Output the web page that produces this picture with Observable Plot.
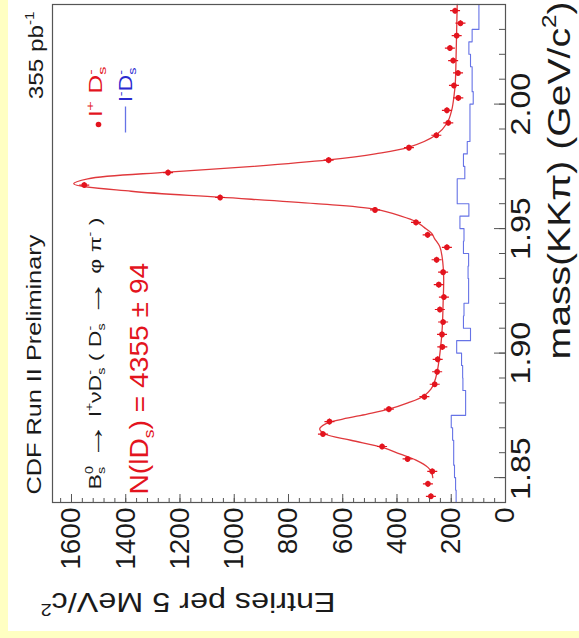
<!DOCTYPE html>
<html><head><meta charset="utf-8">
<script src="https://cdn.jsdelivr.net/npm/d3@7"></script>
<script src="https://cdn.jsdelivr.net/npm/@observablehq/plot@0.6"></script>
<style>
html,body{margin:0;padding:0;}
body{width:579px;height:638px;background:#ffffc2;position:relative;overflow:hidden;}
#panel{position:absolute;left:8px;top:0;width:571px;height:631px;background:#fff;}
#rot{position:absolute;left:0;top:0;width:638px;height:579px;transform-origin:0 0;transform:translate(0px,638px) rotate(-90deg);}
</style></head><body><div id="panel"></div><div id="rot"></div>
<script>
// ---- data ----
const massDomain = [1.84, 2.04];
const entriesDomain = [0, 1670];
const massBins = [1.8425, 1.8475, 1.8525, 1.8575, 1.8625, 1.8675, 1.8725, 1.8775, 1.8825, 1.8875,
  1.8925, 1.8975, 1.9025, 1.9075, 1.9125, 1.9175, 1.9225, 1.9275, 1.9325, 1.9375,
  1.9425, 1.9475, 1.9525, 1.9575, 1.9625, 1.9675, 1.9725, 1.9775, 1.9825, 1.9875,
  1.9925, 1.9975, 2.0025, 2.0075, 2.0125, 2.0175, 2.0225, 2.0275, 2.0325, 2.0375];
const rightSign = [275, 286, 270, 361, 455, 673, 649, 430, 299, 261,
  252, 250, 233, 234, 230, 242, 227, 246, 230, 254,
  216, 287, 330, 481, 1052, 1553, 1244, 652, 356, 255,
  211, 216, 174, 190, 175, 193, 205, 180, 166, 186];
const wrongSign = [182, 184, 188, 191, 191, 195, 200, 147, 147, 157,
  158, 162, 180, 129, 155, 153, 136, 136, 138, 136,
  155, 153, 168, 135, 178, 178, 150, 155, 141, 131,
  131, 131, 119, 123, 123, 129, 135, 123, 98, 98];
const fitMass = [1.850, 1.852, 1.854, 1.857, 1.8595, 1.862, 1.865, 1.8675, 1.8695, 1.8715,
  1.8735, 1.8755, 1.8775, 1.880, 1.8828, 1.8855, 1.8878, 1.8924, 1.9025, 1.9105,
  1.920, 1.9307, 1.9381, 1.9427, 1.9461, 1.9481, 1.9505, 1.9528, 1.9551, 1.9578,
  1.960, 1.9626, 1.965, 1.968, 1.970, 1.9727, 1.975, 1.9776, 1.980, 1.9827,
  1.9877, 1.9924, 1.9977, 2.0031, 2.0086, 2.020, 2.030, 2.040];
const fitValue = [268, 272, 285, 330, 390, 450, 570, 665, 685, 665,
  600, 510, 430, 360, 301, 275, 264, 252, 239, 233,
  230, 228, 233, 242, 262, 272, 300, 330, 387, 482,
  700, 1052, 1380, 1592, 1540, 1244, 930, 653, 480, 356,
  255, 215, 198, 190, 185, 182, 180, 178];
const massMajorTicks = [1.85, 1.90, 1.95, 2.00];
const massMinorTicks = [1.85, 1.86, 1.87, 1.88, 1.89, 1.90, 1.91, 1.92, 1.93, 1.94,
  1.95, 1.96, 1.97, 1.98, 1.99, 2.00, 2.01, 2.02, 2.03];
const entriesMajorTicks = [0, 200, 400, 600, 800, 1000, 1200, 1400, 1600];
const entriesMinorTicks = [40, 80, 120, 160, 200, 240, 280, 320, 360, 400, 440, 480, 520, 560, 600,
  640, 680, 720, 760, 800, 840, 880, 920, 960, 1000, 1040, 1080, 1120, 1160, 1200,
  1240, 1280, 1320, 1360, 1400, 1440, 1480, 1520, 1560, 1600, 1640];

// ---- styles ----
const RED = "#e3141e", FITRED = "#e0383c", BLUE = "#6673e6", BLUETEXT = "#2a2ad0",
      INK = "#1a1a1a", FRAME = "#555555";

const points = massBins.map((mass, i) => ({mass, n: rightSign[i]}));
const wrong = [{mass: massDomain[0], n: wrongSign[0]},
  ...massBins.map((mass, i) => ({mass, n: wrongSign[i]})),
  {mass: massDomain[1], n: wrongSign[wrongSign.length - 1]}];
const fit = fitMass.map((mass, i) => ({mass, n: fitValue[i]}));

const errCross = {draw(ctx) { ctx.moveTo(0, -5); ctx.lineTo(0, 5); ctx.moveTo(-3, 0); ctx.lineTo(3, 0); }};
const legendLine = {draw(ctx) { ctx.moveTo(-13, 0); ctx.lineTo(13, 0); }};

const texts = [
  {id: "t-cdf", text: "CDF Run II Preliminary", anchor: "top-left", dx: 8, dy: -12, size: 20, fill: INK, target: 260, textAnchor: "start"},
  {id: "t-lumi", text: "355 pb-1", anchor: "top-right", dx: -7, dy: -10, size: 20, fill: INK, target: 88, textAnchor: "end",
    parts: [["355 pb", "n"], ["-1", "sup"]]},
  {id: "t-decay", text: "B0s → l+νD-s ( D-s → φ π- )", anchor: "top-left", dx: 13, dy: 48, size: 17, fill: INK, target: 272, textAnchor: "start",
    parts: [["B", "n"], [["0", "s"], "supsub"], [" ", "n"], ["→", "big"], [" l", "n"], ["+", "sup"], ["νD", "n"], [["-", "s"], "supsub"],
            [" ( D", "n"], [["-", "s"], "supsub"], [" ", "n"], ["→", "big"], [" φ π", "n"], ["-", "sup"], [" )", "n"]]},
  {id: "t-yield", text: "N(lDs) = 4355 ± 94", anchor: "top-left", dx: 8, dy: 95, size: 25, fill: RED, target: 232, textAnchor: "start",
    parts: [["N(lD", "n"], ["s", "sub"], [") = 4355 ± 94", "n"]]},
  {id: "t-leg1", text: "l+ D-s", anchor: "top-right", dx: -112, dy: 49, size: 19, fill: RED, target: 50, textAnchor: "start",
    parts: [["l", "n"], ["+", "sup"], [" D", "n"], [["-", "s"], "supsub"]]},
  {id: "t-leg2", text: "l-D-s", anchor: "top-right", dx: -97, dy: 79, size: 19, fill: BLUETEXT, target: 34, textAnchor: "start",
    parts: [["l", "n"], ["-", "sup"], ["D", "n"], [["-", "s"], "supsub"]]},
  {id: "t-xtitle", text: "mass(KKπ) (GeV/c2)", anchor: "bottom-right", dx: 3, dy: 64, size: 32, fill: INK, target: 358, textAnchor: "end",
    parts: [["mass(KKπ) (GeV/c", "n"], ["2", "sup"], [")", "n"]]},
  {id: "t-ytitle", text: "Entries per 5 MeV/c2", anchor: "top-left", dx: -90, dy: -12, size: 28, fill: INK, target: 295, textAnchor: "end", rotate: -90,
    parts: [["Entries per 5 MeV/c", "n"], ["2", "sup"]]}
];

const chart = Plot.plot({
  width: 638,
  height: 579,
  marginLeft: 135,
  marginRight: 5,
  marginTop: 52,
  marginBottom: 74,
  style: {background: "transparent", fontFamily: "'Liberation Sans', Arial, Helvetica, sans-serif", fontSize: "28px", color: INK, overflow: "visible"},
  x: {domain: massDomain},
  y: {domain: entriesDomain},
  marks: [
    Plot.line(wrong, {x: "mass", y: "n", curve: "step", stroke: BLUE, strokeWidth: 1.1}),
    Plot.line(fit, {x: "mass", y: "n", curve: "catmull-rom", stroke: FITRED, strokeWidth: 1.3}),
    Plot.dot(points, {x: "mass", y: "n", symbol: errCross, r: 4, fill: "none", stroke: RED, strokeWidth: 1.2}),
    Plot.dot(points, {x: "mass", y: "n", r: 2.8, fill: RED}),
    // inward ticks
    Plot.ruleX(massMinorTicks, {x: d => d, y1: entriesDomain[0], y2: entriesDomain[0], insetTop: -6, stroke: FRAME}),
    Plot.ruleX(massMajorTicks, {x: d => d, y1: entriesDomain[0], y2: entriesDomain[0], insetTop: -11, stroke: FRAME}),
    Plot.ruleY(entriesMinorTicks, {y: d => d, x1: massDomain[0], x2: massDomain[0], insetRight: -5, stroke: FRAME}),
    Plot.ruleY(entriesMajorTicks, {y: d => d, x1: massDomain[0], x2: massDomain[0], insetRight: -9, stroke: FRAME}),
    Plot.frame({stroke: FRAME, strokeWidth: 1.2}),
    Plot.axisX({ticks: massMajorTicks.slice(1), tickSize: 0, tickPadding: 5, tickFormat: d3.format(".2f"), label: null, fontSize: 28, ariaDescription: "massticks"}),
    Plot.axisX({ticks: massMajorTicks.slice(0, 1), tickSize: 0, tickPadding: 5, tickFormat: d3.format(".2f"), label: null, fontSize: 28, dx: 9, ariaDescription: "massticks"}),
    Plot.axisY({ticks: entriesMajorTicks, tickSize: 0, tickPadding: 5, tickFormat: d3.format("d"), label: null, fontSize: 28}),
    // legend
    Plot.dot([0], {frameAnchor: "top-right", dx: -120, dy: 46, r: 2.8, fill: RED}),
    Plot.dot([0], {frameAnchor: "top-right", dx: -115, dy: 73, symbol: legendLine, fill: "none", stroke: BLUE, strokeWidth: 1.3}),
    // texts
    ...texts.map(t => Plot.text([t.text], {text: d => d, frameAnchor: t.anchor, dx: t.dx, dy: t.dy, fontSize: t.size,
      fill: t.fill, textAnchor: t.textAnchor, lineAnchor: "bottom", rotate: t.rotate || 0, ariaDescription: t.id}))
  ]
});
document.getElementById("rot").append(chart);

const NS = "http://www.w3.org/2000/svg";
function span(el, txt, attrs) {
  const t = document.createElementNS(NS, "tspan");
  for (const k in attrs) t.setAttribute(k, attrs[k]);
  t.textContent = txt;
  el.appendChild(t);
  return t;
}
function setRich(el, parts, fs) {
  el.textContent = "";
  el.style.whiteSpace = "pre";
  const small = (fs * 0.62).toFixed(2);
  const supDy = -0.42 * fs, subDy = 0.24 * fs, bigDy = 0.12 * fs;
  let shift = 0, pendingDx = 0;
  for (const [s, type] of parts) {
    if (type === "n") {
      span(el, s, {dy: -shift, dx: pendingDx}); shift = 0; pendingDx = 0;
    } else if (type === "big") {
      span(el, s, {dy: bigDy - shift, dx: pendingDx, "font-size": (fs * 1.6).toFixed(2)}); shift = bigDy; pendingDx = 0;
    } else if (type === "sup" || type === "sub") {
      const target = type === "sup" ? supDy : subDy;
      span(el, s, {dy: target - shift, dx: pendingDx, "font-size": small}); shift = target; pendingDx = 0;
    } else {
      const t1 = span(el, s[0], {dy: supDy - shift, dx: pendingDx, "font-size": small});
      const w1 = t1.getComputedTextLength();
      const t2 = span(el, s[1], {dy: subDy - supDy, dx: -w1, "font-size": small});
      const w2 = t2.getComputedTextLength();
      shift = subDy; pendingDx = Math.max(0, w1 - w2);
    }
  }
}
function stretch(el, target) {
  const w = el.getBBox().width;
  if (!w) return;
  const s = target / w;
  const tr = el.getAttribute("transform");
  if (tr) el.setAttribute("transform", tr + ` scale(${s.toFixed(4)},1)`);
  else {
    const x = +(el.getAttribute("x") || 0), y = +(el.getAttribute("y") || 0);
    el.setAttribute("transform", `translate(${x},${y}) scale(${s.toFixed(4)},1) translate(${-x},${-y})`);
  }
}
for (const t of texts) {
  const el = chart.querySelector(`[aria-description="${t.id}"] text`);
  if (!el) continue;
  if (t.parts) setRich(el, t.parts, t.size);
  stretch(el, t.target);
}
for (const el of chart.querySelectorAll('[aria-description="massticks"] text')) {
  const w = el.getBBox().width;
  stretch(el, w * 1.15);
}
</script></body></html>
